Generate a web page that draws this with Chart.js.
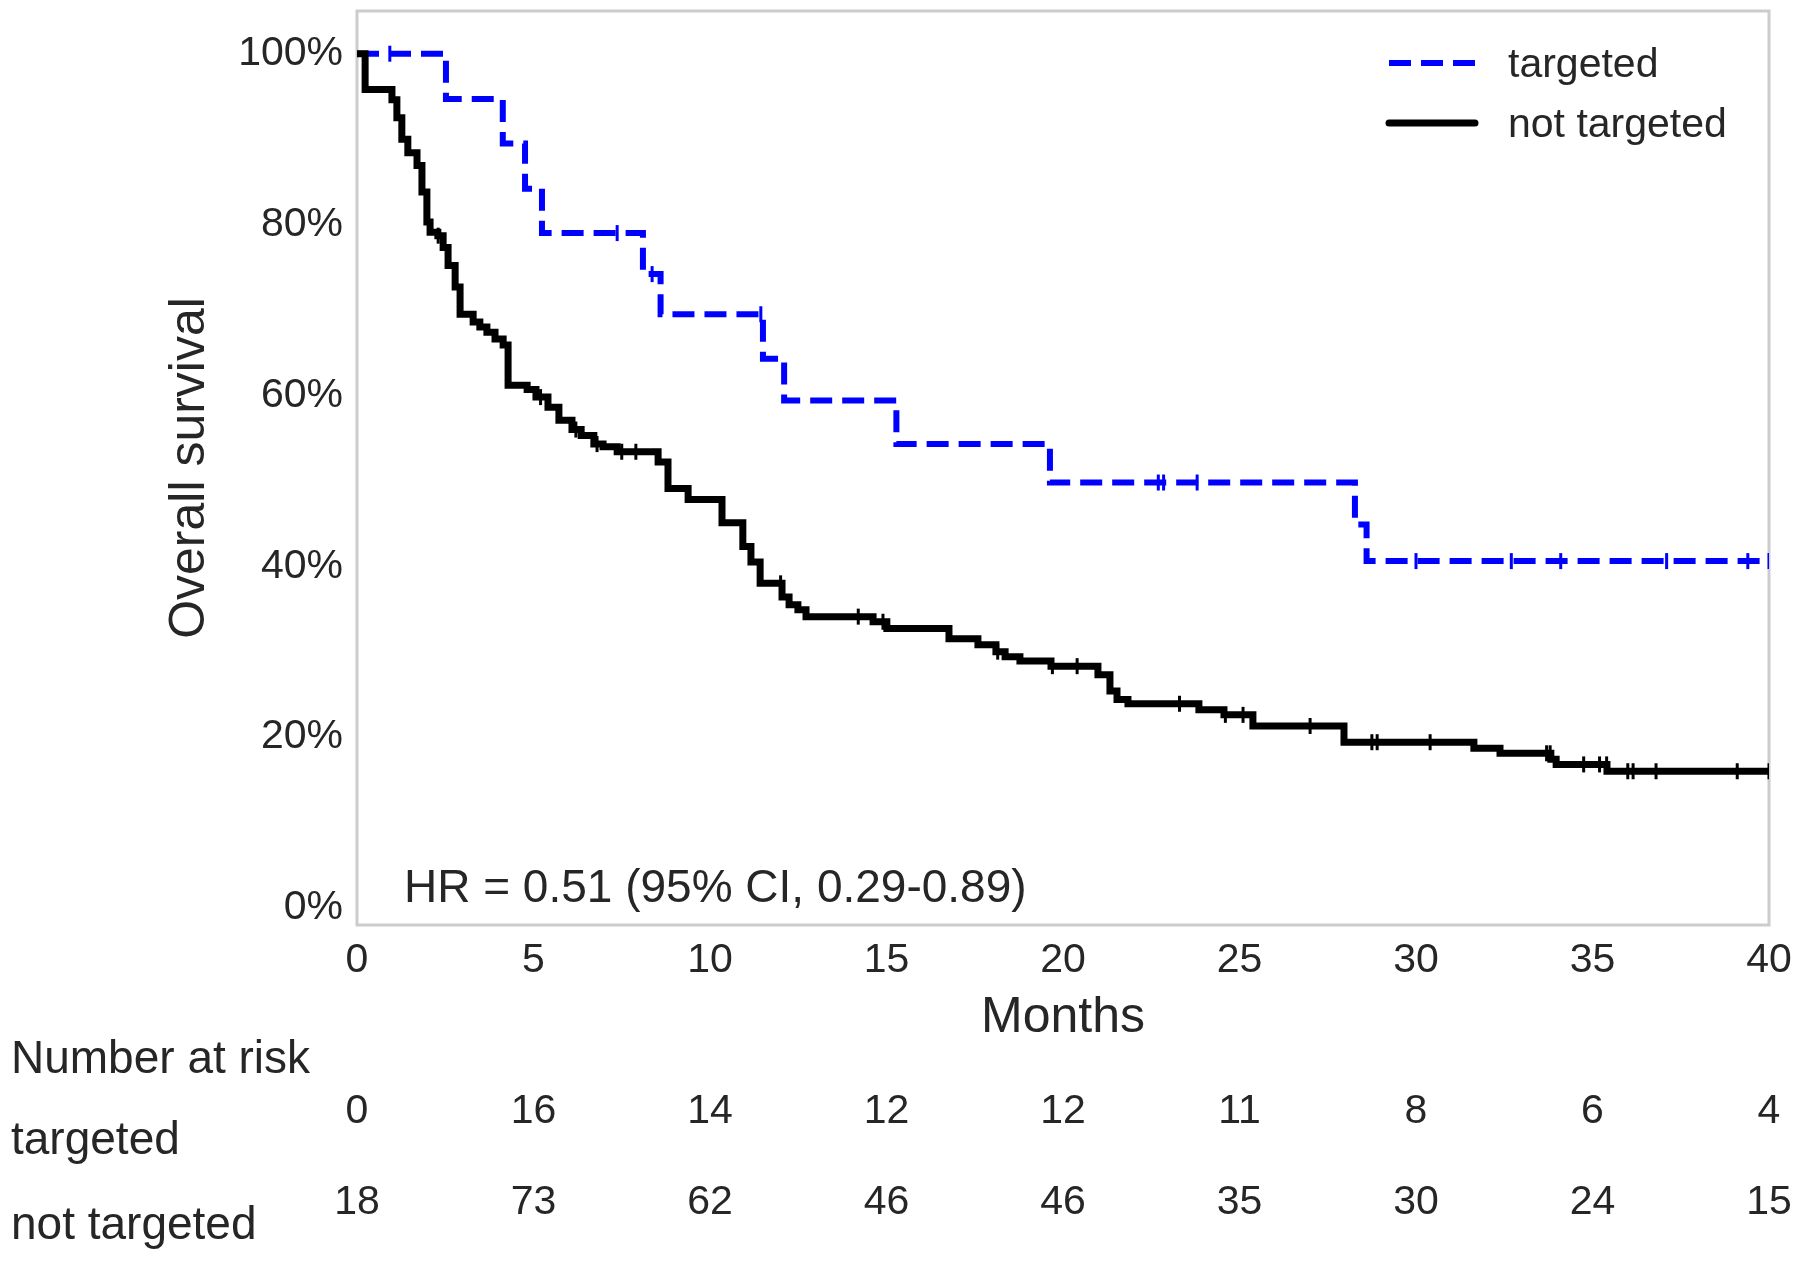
<!DOCTYPE html>
<html>
<head>
<meta charset="utf-8">
<script src="https://cdn.jsdelivr.net/npm/chart.js@4.4.1/dist/chart.umd.min.js"></script>
<style>
  html, body { margin: 0; padding: 0; background: #fff; }
</style>
</head>
<body>
<canvas id="kmChart" width="1800" height="1262"></canvas>
<script>
// Kaplan-Meier steps: level (%) that starts at each time (months)
const targetedTimes = [0, 2.52, 4.13, 4.76, 5.24, 8.1, 8.6, 11.5, 12.1, 15.28, 19.63, 28.27, 28.6, 40];
const targetedSurv  = [100, 94.7, 89.5, 84.2, 79.0, 74.2, 69.5, 64.3, 59.4, 54.3, 49.8, 44.9, 40.6, 40.6];
const targetedCensored = [0.93, 7.37, 8.36, 11.44, 22.7, 22.85, 23.8, 30.0, 32.7, 34.1, 37.1, 39.4, 40];

const notTargetedTimes = [0, 0.23, 0.99, 1.13, 1.27, 1.44, 1.70, 1.84, 1.98, 2.07, 2.29, 2.44, 2.58, 2.78, 2.92,
  3.29, 3.48, 3.68, 3.91, 4.14, 4.28, 4.82, 5.07, 5.41, 5.72, 6.09, 6.35, 6.71, 6.97, 7.37, 8.53, 8.81, 9.38,
  10.34, 10.93, 11.16, 11.42, 12.04, 12.24, 12.49, 12.72, 14.62, 15.01, 16.77, 17.59, 18.10, 18.36, 18.78,
  19.66, 20.99, 21.33, 21.53, 21.84, 23.85, 24.56, 25.38, 27.96, 31.64, 32.38, 33.82, 33.97, 35.41, 40];
const notTargetedSurv = [100, 95.8, 94.6, 92.5, 90.0, 88.4, 86.9, 83.8, 80.3, 79.1, 78.7, 77.3, 75.2, 72.7, 69.5,
  68.6, 68.0, 67.4, 66.6, 65.9, 61.2, 60.7, 59.8, 58.6, 57.1, 56.0, 55.3, 54.3, 54.0, 53.4, 52.2, 49.1, 47.8,
  45.1, 42.3, 40.5, 38.0, 36.4, 35.5, 34.9, 34.1, 33.5, 32.7, 31.5, 30.8, 30.0, 29.4, 28.9,
  28.3, 27.3, 25.4, 24.4, 23.9, 23.2, 22.6, 21.3, 19.4, 18.7, 18.1, 17.4, 16.8, 16.0, 16.0];
const notTargetedCensored = [2.3, 5.2, 6.2, 6.8, 7.5, 7.9, 12.0, 14.2, 14.9, 18.15, 19.7, 20.4, 23.3, 24.6, 25.1,
  27.0, 28.75, 28.9, 30.4, 33.7, 33.8, 34.75, 35.2, 35.4, 36.0, 36.15, 36.8, 39.1, 40];

const monthTicks = [0, 5, 10, 15, 20, 25, 30, 35, 40];
const survivalTicks = [0, 20, 40, 60, 80, 100];
const riskTargeted = [0, 16, 14, 12, 12, 11, 8, 6, 4];
const riskNotTargeted = [18, 73, 62, 46, 46, 35, 30, 24, 15];

const textColor = '#262626';
const fontFamily = "'Liberation Sans', Arial, sans-serif";

function stepPoints(times, surv) {
    return times.map((t, i) => ({ x: t, y: surv[i] }));
}
function levelAt(times, surv, t) {
    let v = surv[0];
    for (let i = 0; i < times.length; i++) {
        if (times[i] <= t) v = surv[i];
    }
    return v;
}
function censorPoints(list, times, surv) {
    return list.map(t => ({ x: t, y: levelAt(times, surv, t) }));
}

// box, legend, HR note and number-at-risk table
const extrasPlugin = {
    id: 'extras',
    beforeDatasetsDraw(chart) {
        const { ctx, chartArea } = chart;
        ctx.save();
        ctx.strokeStyle = '#cccccc';
        ctx.lineWidth = 3;
        ctx.strokeRect(chartArea.left, chartArea.top, chartArea.right - chartArea.left, chartArea.bottom - chartArea.top);
        ctx.restore();
    },
    afterDraw(chart) {
        const { ctx } = chart;
        const xs = chart.scales.x;
        ctx.save();

        // legend
        ctx.lineWidth = 6;
        ctx.strokeStyle = '#0000ff';
        ctx.setLineDash([22, 10]);
        ctx.beginPath(); ctx.moveTo(1389, 63); ctx.lineTo(1475, 63); ctx.stroke();
        ctx.setLineDash([]);
        ctx.strokeStyle = '#000000';
        ctx.lineWidth = 7;
        ctx.lineCap = 'round';
        ctx.beginPath(); ctx.moveTo(1389, 123); ctx.lineTo(1475, 123); ctx.stroke();
        ctx.fillStyle = textColor;
        ctx.font = '41px ' + fontFamily;
        ctx.textAlign = 'left';
        ctx.textBaseline = 'middle';
        ctx.fillText('targeted', 1508, 66);
        ctx.fillText('not targeted', 1508, 126);

        // hazard ratio note
        ctx.textBaseline = 'alphabetic';
        ctx.font = '46px ' + fontFamily;
        ctx.fillText('HR = 0.51 (95% CI, 0.29-0.89)', 404, 902);

        // number at risk
        ctx.fillText('Number at risk', 11, 1073);
        ctx.fillText('targeted', 11, 1154);
        ctx.fillText('not targeted', 11, 1239);
        ctx.font = '41px ' + fontFamily;
        ctx.textAlign = 'center';
        monthTicks.forEach((m, i) => {
            const px = xs.getPixelForValue(m);
            ctx.fillText(String(riskTargeted[i]), px, 1123);
            ctx.fillText(String(riskNotTargeted[i]), px, 1214);
        });
        ctx.restore();
    }
};

const ctx = document.getElementById('kmChart').getContext('2d');
const kmChart = new Chart(ctx, {
    type: 'line',
    data: {
        datasets: [
            {
                label: 'not targeted',
                data: stepPoints(notTargetedTimes, notTargetedSurv),
                stepped: true,
                borderColor: '#000000',
                borderWidth: 7,
                pointRadius: 0,
                fill: false
            },
            {
                label: 'not targeted censored',
                data: censorPoints(notTargetedCensored, notTargetedTimes, notTargetedSurv),
                showLine: false,
                pointStyle: 'line',
                rotation: 90,
                pointRadius: 8,
                pointBorderWidth: 3,
                pointBorderColor: '#000000'
            },
            {
                label: 'targeted',
                data: stepPoints(targetedTimes, targetedSurv),
                stepped: true,
                borderColor: '#0000ff',
                borderWidth: 6,
                borderDash: [22, 10],
                pointRadius: 0,
                fill: false
            },
            {
                label: 'targeted censored',
                data: censorPoints(targetedCensored, targetedTimes, targetedSurv),
                showLine: false,
                pointStyle: 'line',
                rotation: 90,
                pointRadius: 8,
                pointBorderWidth: 3,
                pointBorderColor: '#0000ff'
            }
        ]
    },
    options: {
        responsive: false,
        animation: false,
        layout: {
            padding: { left: 0, right: 31, top: 9, bottom: 207 }
        },
        scales: {
            x: {
                type: 'linear',
                min: 0,
                max: 40,
                grid: { display: false, drawTicks: false },
                border: { display: false },
                afterBuildTicks: (axis) => { axis.ticks = monthTicks.map(v => ({ value: v })); },
                afterFit: (axis) => { axis.height = 130; axis.paddingLeft = 0; axis.paddingRight = 0; },
                ticks: {
                    padding: 11,
                    color: textColor,
                    font: { size: 41, family: fontFamily }
                },
                title: {
                    display: true,
                    text: 'Months',
                    color: textColor,
                    font: { size: 50, family: fontFamily },
                    padding: { top: 0, bottom: 7 }
                }
            },
            y: {
                type: 'linear',
                min: -2,
                max: 105,
                grid: { display: false, drawTicks: false },
                border: { display: false },
                afterBuildTicks: (axis) => { axis.ticks = survivalTicks.map(v => ({ value: v })); },
                afterFit: (axis) => { axis.width = 357; axis.paddingTop = 0; axis.paddingBottom = 0; },
                ticks: {
                    padding: 14,
                    color: textColor,
                    font: { size: 41, family: fontFamily },
                    callback: (v) => v + '%'
                },
                title: {
                    display: true,
                    text: 'Overall survival',
                    color: textColor,
                    font: { size: 50, family: fontFamily },
                    padding: { top: 160, bottom: 0 }
                }
            }
        },
        plugins: {
            legend: { display: false },
            tooltip: { enabled: false }
        }
    },
    plugins: [extrasPlugin]
});
</script>
</body>
</html>
